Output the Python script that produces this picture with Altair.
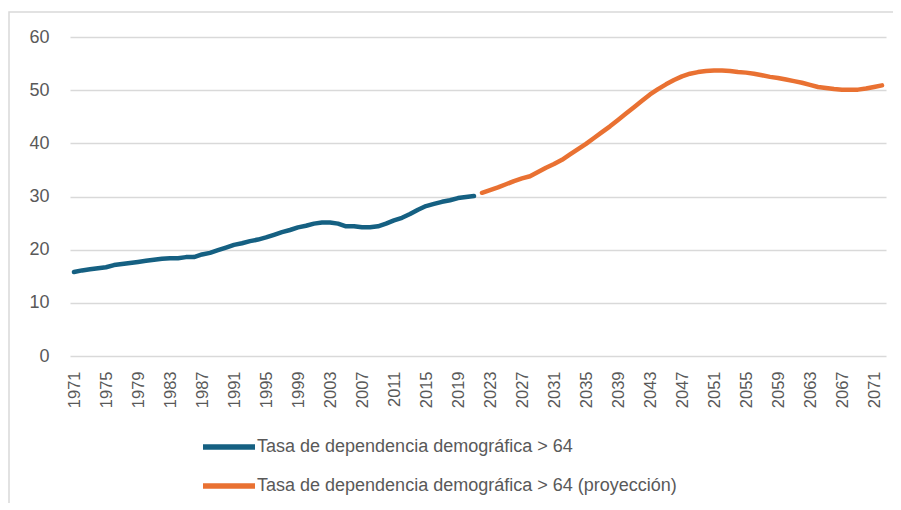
import altair as alt
import pandas as pd

# ---- data ----
years_hist = list(range(1971, 2022))
vals_hist = [15.8, 16.1, 16.3, 16.5, 16.7, 17.1, 17.3, 17.5, 17.7, 17.9,
             18.1, 18.3, 18.4, 18.4, 18.6, 18.6, 19.1, 19.4, 19.9, 20.4,
             20.9, 21.2, 21.6, 21.9, 22.3, 22.8, 23.3, 23.7, 24.2, 24.5,
             24.9, 25.1, 25.1, 24.9, 24.4, 24.4, 24.2, 24.2, 24.4, 24.9,
             25.5, 26.0, 26.7, 27.5, 28.2, 28.6, 29.0, 29.3, 29.7, 29.9,
             30.1]
years_proj = list(range(2022, 2073))
vals_proj = [30.7, 31.2, 31.7, 32.3, 32.9, 33.4, 33.8, 34.6, 35.4, 36.1,
             36.9, 37.9, 38.9, 39.9, 41.0, 42.1, 43.2, 44.4, 45.6, 46.8,
             48.0, 49.2, 50.2, 51.1, 51.9, 52.6, 53.1, 53.4, 53.6, 53.7,
             53.7, 53.6, 53.4, 53.3, 53.1, 52.8, 52.5, 52.3, 52.0, 51.7,
             51.4, 51.0, 50.6, 50.4, 50.2, 50.1, 50.1, 50.1, 50.3, 50.6,
             50.9]
series = ["Tasa de dependencia demográfica > 64",
          "Tasa de dependencia demográfica > 64 (proyección)"]
colors = ["#156082", "#E97132"]
x_tick_years = list(range(1971, 2072, 4))
y_ticks = [0, 10, 20, 30, 40, 50, 60]

df = pd.concat([
    pd.DataFrame({"year": years_hist, "value": vals_hist, "serie": series[0]}),
    pd.DataFrame({"year": years_proj, "value": vals_proj, "serie": series[1]}),
], ignore_index=True)

FONT = "Liberation Sans"
GRAY = "#595959"

lines = alt.Chart(df).mark_line(
    strokeWidth=4.5, strokeCap="round", strokeJoin="round"
).encode(
    x=alt.X("year:O",
            scale=alt.Scale(type="point", padding=0.5),
            axis=alt.Axis(values=x_tick_years, labelAngle=270, title=None,
                          domain=False, ticks=False, grid=False,
                          labelPadding=15, labelFontSize=16.5,
                          labelColor=GRAY, labelFont=FONT)),
    y=alt.Y("value:Q",
            scale=alt.Scale(domain=[0, 60], nice=False),
            axis=alt.Axis(values=y_ticks, title=None, domain=False, ticks=False,
                          grid=True, gridColor="#d9d9d9", gridWidth=1.5,
                          labelPadding=21, labelFontSize=18,
                          labelColor=GRAY, labelFont=FONT)),
    color=alt.Color("serie:N",
                    scale=alt.Scale(domain=series, range=colors),
                    legend=alt.Legend(title=None, orient="none",
                                      legendX=150, legendY=401,
                                      direction="vertical",
                                      symbolType="M-5.2,0H5.2", symbolSize=100,
                                      symbolStrokeWidth=5.5,
                                      labelOffset=19, labelFontSize=18,
                                      labelFont=FONT, labelColor=GRAY,
                                      rowPadding=17, labelLimit=600)),
)

border = alt.Chart(pd.DataFrame({"a": [0]})).mark_rect(
    fillOpacity=0, stroke="#d9d9d9", strokeWidth=1.5
).encode(
    x=alt.value(-61), x2=alt.value(860),
    y=alt.value(-25), y2=alt.value(490),
)

chart = alt.layer(border, lines).properties(
    width=816, height=319,
    autosize=alt.AutoSizeParams(type="none"),
    padding={"left": 62, "top": 29, "right": 7, "bottom": 147},
).configure_view(strokeOpacity=0)

chart.save("out.html", embed_options={"renderer": "svg", "actions": False})
